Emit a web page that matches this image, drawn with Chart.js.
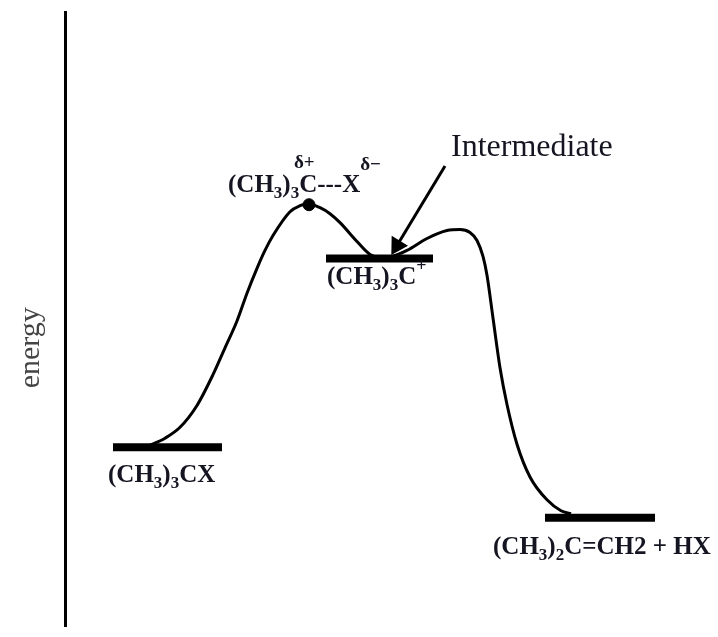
<!DOCTYPE html>
<html>
<head>
<meta charset="utf-8">
<script src="https://cdn.jsdelivr.net/npm/chart.js@4.4.1/dist/chart.umd.min.js"></script>
<style>
  html, body { margin: 0; padding: 0; background: #fff; }
  #wrap { width: 718px; height: 637px; }
</style>
</head>
<body>
<div id="wrap"><canvas id="chart" width="718" height="637"></canvas></div>
<script>
// reaction coordinate (arbitrary units) and energy along the profile
const pathX = [83, 100, 115, 132, 148, 160, 172, 182, 192, 200, 208, 225, 235, 243, 255, 265, 275, 292, 305, 315, 327, 342, 362, 382, 395, 405, 412, 418, 422, 428, 435, 442, 452, 465, 482, 496, 506];
const pathE = [181, 189, 200, 222, 253, 280, 307, 335, 360, 378, 393, 417, 423, 425, 421, 415, 406, 387, 374, 371, 372, 378, 390, 398, 399, 396, 388, 372, 353, 310, 260, 223, 183, 150, 127, 116, 113];

// energy levels: start, end, energy
const levelNames = ["(CH3)3CX", "(CH3)3C+", "(CH3)2C=CH2 + HX"];
const levelStart = [48, 261, 480];
const levelEnd = [157, 368, 590];
const levelE = [180, 370, 109];

// transition state marker
const tsX = [244];
const tsE = [424];

// arrow to intermediate
const arrowX = [380, 332];
const arrowE = [463, 383];

// text labels: parts are [text, kind]
const labels = [
  { x: 43, y: 145, parts: [["(CH", "n"], ["3", "sub"], [")", "n"], ["3", "sub"], ["CX", "n"]] },
  { x: 262, y: 344, parts: [["(CH", "n"], ["3", "sub"], [")", "n"], ["3", "sub"], ["C", "n"], ["+", "sup"]] },
  { x: 163, y: 437, parts: [["(CH", "n"], ["3", "sub"], [")", "n"], ["3", "sub"], ["C---X", "n"], ["δ−", "hi"]] },
  { x: 229, y: 461, parts: [["δ+", "small"]] },
  { x: 428, y: 72, parts: [["(CH", "n"], ["3", "sub"], [")", "n"], ["2", "sub"], ["C=CH2 + HX", "n"]] },
  { x: 386, y: 473, parts: [["Intermediate", "plain"]] }
];
const yTitle = { text: "energy", x: -34, y: 280 };

const labelPlugin = {
  id: 'richLabels',
  afterDatasetsDraw(chart) {
    const { ctx, scales: { x, y } } = chart;
    ctx.save();
    ctx.fillStyle = '#151522';
    ctx.textBaseline = 'alphabetic';
    labels.forEach(l => {
      let px = x.getPixelForValue(l.x);
      const py = y.getPixelForValue(l.y);
      l.parts.forEach(([t, k]) => {
        let dy = 0;
        if (k === 'n') ctx.font = 'bold 25px "Liberation Serif"';
        if (k === 'sub') { ctx.font = 'bold 17px "Liberation Serif"'; dy = 6; }
        if (k === 'sup') { ctx.font = 'bold 18px "Liberation Serif"'; dy = -13; }
        if (k === 'hi') { ctx.font = 'bold 19px "Liberation Serif"'; dy = -22; }
        if (k === 'small') ctx.font = 'bold 19px "Liberation Serif"';
        if (k === 'plain') ctx.font = '32px "Liberation Serif"';
        ctx.fillText(t, px, py + dy);
        px += ctx.measureText(t).width;
      });
    });
    // rotated axis title
    ctx.fillStyle = '#444';
    ctx.font = '30px "Liberation Serif"';
    ctx.textAlign = 'center';
    ctx.textBaseline = 'middle';
    ctx.translate(x.getPixelForValue(yTitle.x), y.getPixelForValue(yTitle.y));
    ctx.rotate(-Math.PI / 2);
    ctx.fillText(yTitle.text, 0, 0);
    ctx.restore();
  }
};

const pts = (xs, ys) => xs.map((v, i) => ({ x: v, y: ys[i] }));

const levelSets = levelNames.map((name, i) => ({
  label: name,
  data: pts([levelStart[i], levelEnd[i]], [levelE[i], levelE[i]]),
  borderColor: '#000',
  borderWidth: 8,
  borderCapStyle: 'butt',
  pointRadius: 0
}));

new Chart(document.getElementById('chart'), {
  type: 'line',
  data: {
    datasets: [
      {
        label: 'profile',
        data: pts(pathX, pathE),
        borderColor: '#000',
        borderWidth: 3,
        cubicInterpolationMode: 'monotone',
        pointRadius: 0
      },
      ...levelSets,
      {
        label: 'TS',
        data: pts(tsX, tsE),
        showLine: false,
        pointRadius: 6,
        pointBackgroundColor: '#000',
        pointBorderColor: '#000'
      },
      {
        label: 'arrow',
        data: pts(arrowX, arrowE),
        borderColor: '#000',
        borderWidth: 3,
        pointStyle: 'triangle',
        pointRadius: [0, 8],
        pointRotation: [0, 211],
        pointBackgroundColor: '#000',
        pointBorderColor: '#000'
      }
    ]
  },
  options: {
    responsive: false,
    animation: false,
    layout: { padding: { top: 12, bottom: 4, left: 0, right: 0 } },
    plugins: { legend: { display: false }, tooltip: { enabled: false } },
    scales: {
      x: { type: 'linear', min: 0, max: 642, display: false },
      y: {
        type: 'linear', min: 0, max: 618,
        grid: { display: false },
        ticks: { display: false },
        border: { display: true, color: '#000', width: 3 },
        afterFit(s) { s.width = 65; }
      }
    }
  },
  plugins: [labelPlugin]
});
</script>
</body>
</html>
